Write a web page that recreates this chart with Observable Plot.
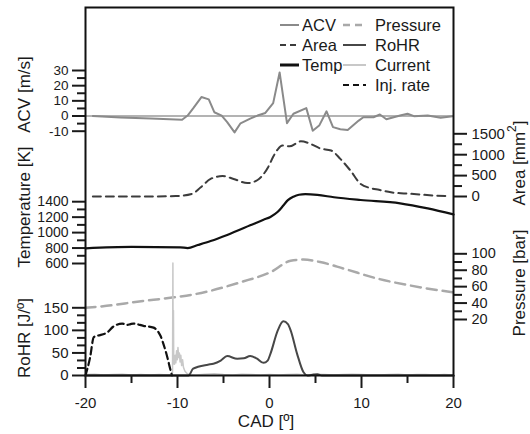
<!DOCTYPE html>
<html>
<head>
<meta charset="utf-8">
<script src="https://cdn.jsdelivr.net/npm/d3@7"></script>
<script src="https://cdn.jsdelivr.net/npm/@observablehq/plot@0.6"></script>
<style>
html, body { margin: 0; padding: 0; background: #fff; }
#chart { position: relative; width: 530px; height: 434px; font-family: "Liberation Sans", Arial, sans-serif; color: #1a1a1a; }
#chart svg { position: absolute; left: 0; top: 0; }
</style>
</head>
<body>
<div id="chart"></div>
<script>
// ---------- data ----------
const seriesNames = ["ACV", "Area", "Temp", "Pressure", "RoHR", "Current", "Inj. rate"];

const acvCAD = [-19.2, -16.2, -12.9, -9.5, -8.9, -8.3, -7.4, -6.6, -6.0, -5.2, -4.6, -3.8, -3.15, -2.1, -1.3, -0.45, 0.4, 1.1, 1.9, 2.6, 4.0, 4.7, 5.4, 6.2, 6.9, 7.7, 8.5, 9.7, 10.2, 11.3, 12.0, 12.7, 14.2, 15.0, 15.7, 17.2, 18.6, 19.9];
const acvValues = [0, -1, -1.7, -2.5, 0.3, 5, 12.5, 11, 2.5, 0.3, -4, -10.8, -4.8, -1.7, 0.3, 2, 8.5, 28.7, -4.7, 1.5, 5.2, -9.7, -6.3, 3.1, -7.3, -8.7, -9.2, -3, -0.8, -0.8, 1, -2.1, 0.3, 1.5, -0.1, 0.3, -1.2, -0.1];

const areaCAD = [-19.2, -12.9, -10.2, -8.4, -7.5, -6.4, -5.1, -3.9, -2.4, -1.3, -0.7, -0.15, 0.4, 0.9, 1.4, 2.2, 3.4, 4.4, 5.5, 6.7, 7.7, 8.8, 9.9, 11.0, 11.9, 13.2, 15.3, 17.8, 19.2];
const areaValues = [0, 0, 10, 65, 215, 420, 490, 420, 320, 395, 520, 700, 950, 1130, 1220, 1200, 1320, 1265, 1150, 1100, 900, 620, 300, 200, 160, 100, 65, 25, 10];

const tempCAD = [-20, -15, -9.7, -8.9, -7.8, -6.4, -4.6, -2.1, -0.65, 0.1, 0.9, 1.5, 2.0, 2.6, 3.2, 3.9, 5.2, 7.0, 9.9, 14.2, 17.2, 20];
const tempValues = [797, 815, 810, 800, 839, 891, 970, 1094, 1167, 1203, 1269, 1350, 1420, 1465, 1490, 1497, 1488, 1458, 1422, 1379, 1313, 1235];

const pressureCAD = [-20, -17, -14.8, -10.4, -8.5, -6.4, -3.15, 0.1, 2.3, 3.7, 5.5, 8.15, 11.85, 15.3, 20];
const pressureValues = [34.2, 37.5, 41, 47, 50, 55, 65.4, 77.6, 91.5, 93, 90, 81.7, 69.5, 61.4, 52.9];

const rohrCAD = [-20, -8.8, -8.3, -6.7, -6.1, -5.3, -4.6, -3.5, -2.8, -2.1, -1.4, -0.65, -0.2, 0.1, 0.9, 1.5, 2.0, 2.3, 3.0, 3.7, 4.1, 4.8, 5.2, 5.7, 20];
const rohrValues = [0, 0, 15, 24, 26, 33, 43, 37, 38, 43, 38, 28, 33, 48, 100, 120, 114, 100, 48, 7, 0, 2, 3, 0, 0];

const injCAD = [-20, -19.5, -19.1, -18.7, -17.6, -17.0, -16.0, -15.5, -15.1, -14.8, -13.7, -12.6, -12.1, -11.85, -11.5, -11.1, -10.8, -10.6];
const injValues = [0, 40, 85, 88, 96, 108, 115, 112, 114, 115, 110, 106, 97, 88, 68, 40, 15, 0];

const currentCAD = [-20, -19, -18, -17, -16, -15, -14, -13, -12, -11,
  -10.62, -10.54, -10.5, -10.47, -10.44, -10.41, -10.37, -10.32, -10.25, -10.18, -10.1, -10.02, -9.95, -9.87, -9.8, -9.72, -9.64, -9.55, -9.45, -9.35, -9.2, -9.0, -8.8, -8.5,
  -8, -7, -6, -5, -4, -3, -2, -1, 0, 1, 2, 3, 4, 5, 6, 7, 8, 9, 10, 11, 12, 13, 14, 15, 16, 17, 18, 19, 20];
const currentValues = [2, 3, 1, 2, 3, 1, 2, 1, 2, 1,
  2, 6, 249, 25, 144, 30, 40, 25, 45, 28, 55, 35, 62, 40, 50, 30, 45, 22, 35, 18, 10, 5, 3, 2,
  1, 3, 4, 2, 1, 3, 2, 1, 2, 1, 2, 3, 1, 3, 2, 1, 2, 3, 2, 1, 1, 2, 3, 1, 2, 2, 1, 2, 1];

// tick labels
const cadTicks = [-20, -10, 0, 10, 20];
const cadMinor = [-15, -5, 5, 15];
const acvTicks = [-10, 0, 10, 20, 30];
const acvMinor = [-5, 5, 15, 25];
const tempTicks = [600, 800, 1000, 1200, 1400];
const tempMinor = [700, 900, 1100, 1300];
const rohrTicks = [0, 50, 100, 150];
const rohrMinor = [50 / 3, 100 / 3, 200 / 3, 250 / 3, 350 / 3, 400 / 3];
const areaTicks = [0, 500, 1000, 1500];
const areaMinor = [250, 750, 1250];
const pressureTicks = [20, 40, 60, 80, 100];
const pressureMinor = [30, 50, 70, 90];

// ---------- layout ----------
const W = 530, H = 434;
const STYLE = "position:absolute;left:0;top:0;background:transparent;font-family:'Liberation Sans',Arial,sans-serif;font-size:15px;color:#1a1a1a;overflow:visible;";
const frameBase = { width: W, height: H, marginLeft: 85, marginRight: 77, marginTop: 7, marginBottom: 59, style: STYLE };
const rows = (xs, ys) => xs.map((x, i) => ({ cad: x, value: ys[i] }));
const fmt = d => String(d);

function majorAxis(ticks, anchor, fontSize = 15) {
  return Plot.axisY(ticks, { anchor, tickSize: 13, tickPadding: anchor === "left" ? 4 : 5, strokeWidth: 2, tickFormat: fmt, label: null, fontSize });
}
function minorAxis(ticks, anchor) {
  return Plot.axisY(ticks, { anchor, tickSize: 8, strokeWidth: 2, tickFormat: () => "", label: null });
}
function layer(y, marks) {
  return Plot.plot({ ...frameBase, x: { domain: [-20, 20], axis: null }, y, marks });
}

const chart = document.getElementById("chart");

// Pressure (right axis)
chart.appendChild(layer({ domain: [20, 100], range: [319, 253.3] }, [
  Plot.line(rows(pressureCAD, pressureValues), { x: "cad", y: "value", stroke: "#a9a9a9", strokeWidth: 2.5, strokeDasharray: "10,6", curve: "monotone-x" }),
  majorAxis(pressureTicks, "right", 14.5),
  minorAxis(pressureMinor, "right")
]));

// Area (right axis)
chart.appendChild(layer({ domain: [0, 1500], range: [196, 133.3] }, [
  Plot.line(rows(areaCAD, areaValues), { x: "cad", y: "value", stroke: "#3c3c3c", strokeWidth: 2, strokeDasharray: "8,5", curve: "monotone-x" }),
  majorAxis(areaTicks, "right", 15),
  minorAxis(areaMinor, "right")
]));

// Temperature (left axis)
chart.appendChild(layer({ domain: [600, 1400], range: [263, 201.2] }, [
  Plot.line(rows(tempCAD, tempValues), { x: "cad", y: "value", stroke: "#111", strokeWidth: 2.2, curve: "monotone-x" }),
  majorAxis(tempTicks, "left", 14),
  minorAxis(tempMinor, "left")
]));

// ACV (left axis)
chart.appendChild(layer({ domain: [-10, 30], range: [130.7, 70] }, [
  Plot.ruleY([0], { stroke: "#9a9a9a", strokeWidth: 1.5 }),
  Plot.line(rows(acvCAD, acvValues), { x: "cad", y: "value", stroke: "#8a8a8a", strokeWidth: 2, curve: "linear" }),
  majorAxis(acvTicks, "left", 13.5),
  minorAxis(acvMinor, "left")
]));

// RoHR, Current, Injection rate (left axis)
chart.appendChild(layer({ domain: [0, 150], range: [375, 307.3] }, [
  Plot.line(rows(currentCAD, currentValues), { x: "cad", y: "value", stroke: "#c8c8c8", strokeWidth: 1.5, curve: "linear" }),
  Plot.line(rows(injCAD, injValues), { x: "cad", y: "value", stroke: "#111", strokeWidth: 2.2, strokeDasharray: "7,4", curve: "monotone-x" }),
  Plot.line(rows(rohrCAD, rohrValues), { x: "cad", y: "value", stroke: "#474747", strokeWidth: 2, curve: "monotone-x" }),
  majorAxis(rohrTicks, "left", 15),
  minorAxis(rohrMinor, "left")
]));

// Frame + CAD axis (top layer)
const topLayer = Plot.plot({
  ...frameBase,
  x: { domain: [-20, 20] },
  marks: [
    Plot.frame({ stroke: "#111", strokeWidth: 2 }),
    Plot.axisX(cadTicks, { anchor: "bottom", tickSize: 13, tickPadding: 9, strokeWidth: 2, tickFormat: fmt, label: null, fontSize: 15 }),
    Plot.axisX(cadMinor, { anchor: "bottom", tickSize: 8, strokeWidth: 2, tickFormat: () => "", label: null })
  ]
});
chart.appendChild(topLayer);

// ---------- axis titles & legend ----------
const svg = d3.select(topLayer);
const titles = [
  { text: "ACV [m/s]", x: 24, y: 94.5 },
  { text: "Temperature [K]", x: 24, y: 207 },
  { text: "RoHR [J/º]", x: 24, y: 338 },
  { text: "Pressure [bar]", x: 519, y: 283 }
];
titles.forEach(t => {
  svg.append("text")
    .attr("transform", `translate(${t.x},${t.y}) rotate(-90)`)
    .attr("text-anchor", "middle").attr("dominant-baseline", "central")
    .attr("font-size", 17).attr("fill", "#1a1a1a").text(t.text);
});
const areaTitle = svg.append("text")
  .attr("transform", "translate(519,163) rotate(-90)")
  .attr("text-anchor", "middle").attr("dominant-baseline", "central")
  .attr("font-size", 17).attr("fill", "#1a1a1a");
areaTitle.append("tspan").text("Area [mm");
areaTitle.append("tspan").attr("font-size", 12).attr("dy", -7).text("2");
areaTitle.append("tspan").attr("dy", 7).text("]");

svg.append("text").attr("x", 266).attr("y", 421).attr("text-anchor", "middle")
  .attr("dominant-baseline", "central").attr("font-size", 17).attr("fill", "#1a1a1a").text("CAD [º]");

// legend
const legendStyle = {
  "ACV": { stroke: "#8a8a8a", width: 2, dash: null },
  "Area": { stroke: "#3c3c3c", width: 2, dash: "6,4" },
  "Temp": { stroke: "#111", width: 3, dash: null },
  "Pressure": { stroke: "#a9a9a9", width: 2.5, dash: "7,5" },
  "RoHR": { stroke: "#474747", width: 2, dash: null },
  "Current": { stroke: "#c8c8c8", width: 2, dash: null },
  "Inj. rate": { stroke: "#111", width: 2.2, dash: "6,4" }
};
const lg = svg.append("g").attr("font-size", 16.5).attr("fill", "#1a1a1a").attr("text-anchor", "start");
seriesNames.forEach((name, i) => {
  const col = i < 3 ? 0 : 1;
  const row = col === 0 ? i : i - 3;
  const y = 25 + row * 20;
  const x1 = col === 0 ? 280 : 343, x2 = col === 0 ? 299 : 366, tx = col === 0 ? 302 : 375;
  const s = legendStyle[name];
  lg.append("line").attr("x1", x1).attr("x2", x2).attr("y1", y).attr("y2", y)
    .attr("stroke", s.stroke).attr("stroke-width", s.width).attr("stroke-dasharray", s.dash);
  lg.append("text").attr("x", tx).attr("y", y).attr("text-anchor", "start")
    .attr("dominant-baseline", "central").text(name);
});
</script>
</body>
</html>
